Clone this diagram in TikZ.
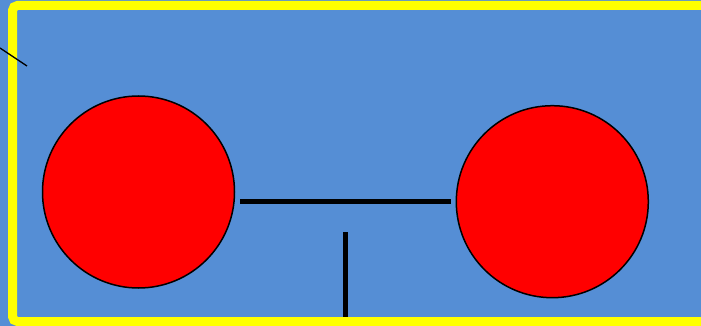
\documentclass[tikz,border=0pt]{standalone}
\usetikzlibrary{calc}

\definecolor{slideblue}{HTML}{558ED5}
\definecolor{slideyellow}{HTML}{FFFF00}
\definecolor{ballred}{HTML}{FF0000}

\begin{document}
\begin{tikzpicture}[x=1pt, y=-1pt,
    ball/.style={circle, draw=black, line width=1.5pt, fill=ballred,
                 minimum size=192pt, inner sep=0pt},
    bar/.style={line width=5pt, black}]
  % Background
  \useasboundingbox (0,0) rectangle (701,326);
  \fill[slideblue] (0,0) rectangle (701,326);

  % Frame
  \draw[slideyellow, line width=9pt, rounded corners=5pt] (12.5,5.5) rectangle (712,321.5);

  % Small stroke at the corner
  \coordinate (S1) at (0,48);
  \coordinate (S2) at (27,66);
  \draw[black, line width=1.3pt] (S1) -- (S2);

  % Two balls
  \node[ball] (L) at (138.5,192) {};
  \node[ball] (R) at (552.3,201.7) {};

  % Rod between the balls
  \draw[bar] ($(L.east |- R.west)+(5,0)$) -- ($(R.west)+(-5,0)$);

  % Stem
  \coordinate (T) at (345,232);
  \coordinate (B) at (345,317);
  \draw[bar] (T) -- (B);
\end{tikzpicture}
\end{document}
